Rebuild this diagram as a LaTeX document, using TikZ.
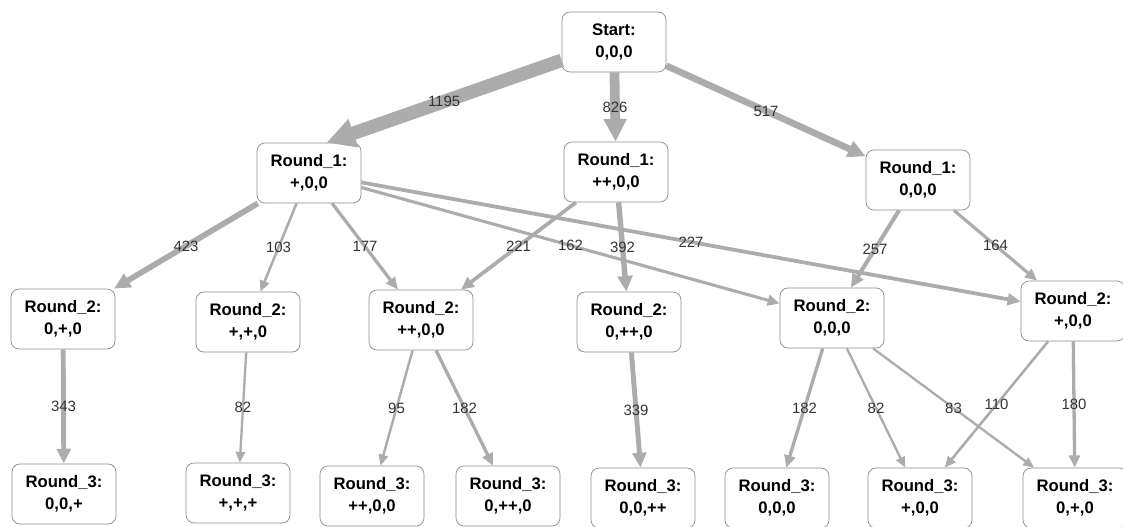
\documentclass[tikz,border=0pt]{standalone}
\usepackage{fontspec}
\setmainfont{Liberation Sans}
\usetikzlibrary{arrows.meta}
\definecolor{flowgray}{RGB}{172,172,172}
\definecolor{boxgray}{RGB}{140,140,140}
\begin{document}
\begin{tikzpicture}[x=0.02cm, y=-0.02cm,
    >={Triangle[length=4pt 1.6, width=3pt 1.7]},
    snode/.style={draw=boxgray, fill=white, rounded corners=0.16cm, minimum width=2.08cm,
      minimum height=1.2cm, inner sep=0pt, align=center,
      font=\bfseries\fontsize{9.5}{12.5}\selectfont},
    flow/.style={->, draw=flowgray, line width=0.85pt+#1*0.0057pt},
    cnt/.style={font=\fontsize{8.5}{10}\selectfont, text=black!80, inner sep=1pt}]
  \useasboundingbox (0,0) rectangle (1123,527);

  % States, one row per round
  \node[snode] (start) at (614,42) {Start:\\0,0,0};

  \node[snode] (r1a) at (309,173) {Round\_1:\\+,0,0};
  \node[snode] (r1b) at (616,172) {Round\_1:\\++,0,0};
  \node[snode] (r1c) at (918,180) {Round\_1:\\0,0,0};

  \node[snode] (r2a) at (63,319) {Round\_2:\\0,+,0};
  \node[snode] (r2b) at (248,322) {Round\_2:\\+,+,0};
  \node[snode] (r2c) at (421,320) {Round\_2:\\++,0,0};
  \node[snode] (r2d) at (629,322) {Round\_2:\\0,++,0};
  \node[snode] (r2e) at (832,318) {Round\_2:\\0,0,0};
  \node[snode] (r2f) at (1073,311) {Round\_2:\\+,0,0};

  \node[snode] (r3a) at (64,494) {Round\_3:\\0,0,+};
  \node[snode] (r3b) at (238,493) {Round\_3:\\+,+,+};
  \node[snode] (r3c) at (372,496) {Round\_3:\\++,0,0};
  \node[snode] (r3d) at (508,496) {Round\_3:\\0,++,0};
  \node[snode] (r3e) at (643,498) {Round\_3:\\0,0,++};
  \node[snode] (r3f) at (777,498) {Round\_3:\\0,0,0};
  \node[snode] (r3g) at (920,498) {Round\_3:\\+,0,0};
  \node[snode] (r3h) at (1075,498) {Round\_3:\\0,+,0};

  % Transitions, width by count
  \draw[flow=1195] (start) -- node[cnt] {1195} (r1a.60);
  \draw[flow=826] (start) -- node[cnt] {826} (r1b);
  \draw[flow=517] (start) -- node[cnt] {517} (r1c);

  \draw[flow=423] (r1a) -- node[cnt] {423} (r2a);
  \draw[flow=103] (r1a) -- node[cnt] {103} (r2b);
  \draw[flow=177] (r1a) -- node[cnt] {177} (r2c);
  \draw[flow=162] (r1a) -- node[cnt] {162} (r2e);
  \draw[flow=227] (r1a) -- node[cnt] {227} (r2f);
  \draw[flow=221] (r1b) -- node[cnt] {221} (r2c);
  \draw[flow=392] (r1b) -- node[cnt] {392} (r2d);
  \draw[flow=257] (r1c) -- node[cnt] {257} (r2e);
  \draw[flow=164] (r1c) -- node[cnt] {164} (r2f);

  \draw[flow=343] (r2a) -- node[cnt] {343} (r3a);
  \draw[flow=82] (r2b) -- node[cnt] {82} (r3b);
  \draw[flow=95] (r2c) -- node[cnt] {95} (r3c);
  \draw[flow=182] (r2c) -- node[cnt] {182} (r3d);
  \draw[flow=339] (r2d) -- node[cnt] {339} (r3e);
  \draw[flow=182] (r2e) -- node[cnt] {182} (r3f);
  \draw[flow=82] (r2e) -- node[cnt] {82} (r3g);
  \draw[flow=83] (r2e) -- node[cnt] {83} (r3h);
  \draw[flow=110] (r2f) -- node[cnt] {110} (r3g);
  \draw[flow=180] (r2f) -- node[cnt] {180} (r3h);
\end{tikzpicture}
\end{document}
